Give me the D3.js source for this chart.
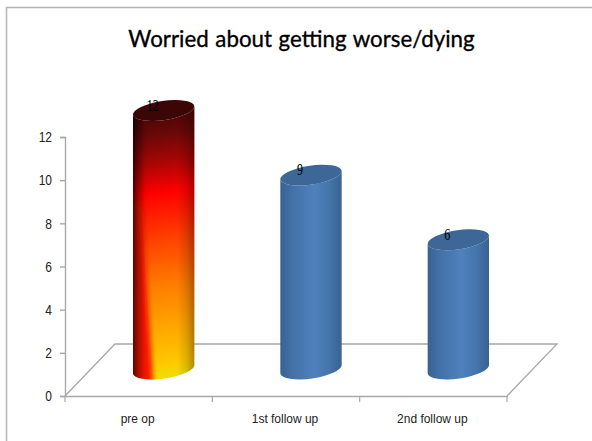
<!DOCTYPE html>
<html>
<head>
<meta charset="utf-8">
<script src="https://cdn.jsdelivr.net/npm/d3@7"></script>
<style>
html,body{margin:0;padding:0;background:#fff}
svg{display:block}
</style>
</head>
<body>
<svg id="chart" width="592" height="441"></svg>
<script>
const categories = ["pre op", "1st follow up", "2nd follow up"];
const values = [12, 9, 6];
const yTicks = [0, 2, 4, 6, 8, 10, 12];
const chartTitle = "Worried about getting worse/dying";

const svg = d3.select("#chart");
const W = 592, H = 441;

// Plot frame: front plane of the 3D floor, plus the depth shift to the back wall
const x0 = 65, x1 = 507, yBase = 396, yTop = 137;
const depthX = 50, depthY = 52;

const x = d3.scaleBand().domain(categories).range([x0, x1]);
const y = d3.scaleLinear().domain([0, 12]).range([yBase, yTop]);
// Cylinders stand in the middle of the floor, so they use a shifted value scale
const yBar = d3.scaleLinear().domain([0, 12]).range([369, 110.5]);

const rx = 31, ry = 9.5, tilt = -8.3;
const dx = rx * Math.cos(tilt * Math.PI / 180);
const dy = rx * Math.sin(tilt * Math.PI / 180);

const defs = svg.append("defs");

function grad(id, attrs, stops) {
  const g = defs.append("linearGradient").attr("id", id);
  Object.entries(attrs).forEach(([k, v]) => g.attr(k, v));
  stops.forEach(([o, c, a]) => g.append("stop")
    .attr("offset", o).attr("stop-color", c).attr("stop-opacity", a === undefined ? 1 : a));
}

const cx = d => x(d) + x.bandwidth() / 2 + depthX / 2;
const fireCx = cx(categories[0]);

grad("blueSide", {x1: 0, x2: 1, y1: 0, y2: 0}, [
  [0, "#38628f"], [0.2, "#4371a8"], [0.55, "#4f81bd"], [0.8, "#4474ab"], [1, "#39628f"]
]);
// Heat ramp runs almost straight down the column, leaning slightly to the right
grad("fireSide", {
  gradientUnits: "userSpaceOnUse",
  x1: fireCx - 12, y1: yBar(12) - 8, x2: fireCx + 26, y2: yBar(0) + 4
}, [
  [0, "#3a0404"], [0.12, "#6a0808"], [0.22, "#a80505"], [0.33, "#ff0000"],
  [0.5, "#ff4000"], [0.68, "#ff8000"], [0.84, "#ffaa00"], [0.95, "#ffc800"], [1, "#f0dc00"]
]);
grad("fireEdges", {x1: 0, x2: 1, y1: 0, y2: 0}, [
  [0, "#000", 0.66], [0.08, "#000", 0.36], [0.2, "#000", 0.04], [0.28, "#000", 0],
  [0.72, "#000", 0], [0.88, "#000", 0.13], [1, "#000", 0.32]
]);

// Soft edge for the red wedge on the column's left flank
defs.append("filter").attr("id", "soften")
  .attr("x", "-40%").attr("y", "-20%").attr("width", "180%").attr("height", "140%")
  .append("feGaussianBlur").attr("stdDeviation", 2.5);

const root = svg.append("g");

// Chart border: only its top and left edges are visible
root.append("path")
  .attr("d", d3.line()([[6.5, H], [6.5, 7.5], [W, 7.5]]))
  .attr("fill", "none").attr("stroke", "#b4b4b4").attr("stroke-width", 1.5);

// Floor outline
root.append("path")
  .attr("d", d3.line()([
    [x0, yBase], [x0 + depthX, yBase - depthY], [x1 + depthX, yBase - depthY], [x1, yBase]
  ]))
  .attr("fill", "none").attr("stroke", "#a8a8a8").attr("stroke-width", 1.3);

const axisFont = "'Liberation Sans',sans-serif";

// Value axis, labels drawn tall and condensed
const yAxis = root.append("g")
  .attr("transform", `translate(${x0},0)`)
  .call(d3.axisLeft(y).tickValues(yTicks).tickSize(5).tickPadding(0));
yAxis.selectAll("path,line").attr("stroke", "#a8a8a8").attr("stroke-width", 1.4);
yAxis.selectAll("text")
  .attr("x", 0)
  .attr("transform", "translate(-13,0) scale(0.8,1)")
  .attr("font-family", axisFont)
  .attr("font-size", 15).attr("fill", "#222");

// Category axis
const xAxis = root.append("g")
  .attr("transform", `translate(0,${yBase})`)
  .call(d3.axisBottom(x).tickSize(0).tickPadding(0));
xAxis.selectAll("path").attr("stroke", "#a8a8a8").attr("stroke-width", 1.5);
xAxis.selectAll("text")
  .attr("y", 0).attr("dy", 0)
  .attr("transform", "translate(-1,27) scale(0.92,1)")
  .attr("font-family", axisFont)
  .attr("font-size", 13).attr("fill", "#222");
const edgeTicks = d3.range(categories.length + 1).map(i => x0 + i * x.step());
root.selectAll(".edge-tick").data(edgeTicks).join("line")
  .attr("class", "edge-tick")
  .attr("x1", d => d).attr("x2", d => d)
  .attr("y1", yBase).attr("y2", yBase + 6)
  .attr("stroke", "#a8a8a8").attr("stroke-width", 1.2);

function sidePath(cat, v) {
  const c = cx(cat), t = yBar(v), b = yBar(0);
  return `M${c - dx},${t - dy}L${c - dx},${b - dy}` +
    `A${rx},${ry} ${tilt} 0 0 ${c + dx},${b + dy}` +
    `L${c + dx},${t + dy}` +
    `A${rx},${ry} ${tilt} 0 1 ${c - dx},${t - dy}Z`;
}

const rows = categories.map((c, i) => ({cat: c, v: values[i], i}));

defs.append("clipPath").attr("id", "fireClip")
  .append("path").attr("d", sidePath(rows[0].cat, rows[0].v));

const bars = root.selectAll(".bar").data(rows).join("g").attr("class", "bar");

bars.each(function (d) {
  const g = d3.select(this);
  const path = sidePath(d.cat, d.v);
  if (d.i === 0) {
    g.append("path").attr("d", path).attr("fill", "url(#fireSide)");
    g.append("g").attr("clip-path", "url(#fireClip)")
      .append("path")
      .attr("d", d3.line()([
        [fireCx - dx - 12, yBar(8.4)],
        [fireCx - 22, yBar(7.5)],
        [fireCx - 10, yBar(-1)],
        [fireCx - dx - 12, yBar(-1)]
      ]))
      .attr("fill", "#ff1200")
      .attr("filter", "url(#soften)");
    g.append("path").attr("d", path).attr("fill", "url(#fireEdges)");
  } else {
    g.append("path").attr("d", path).attr("fill", "url(#blueSide)");
  }
  g.append("ellipse")
    .attr("rx", rx).attr("ry", ry)
    .attr("transform", `translate(${cx(d.cat)},${yBar(d.v)}) rotate(${tilt})`)
    .attr("fill", d.i === 0 ? "#3c0606" : "#3c6796");
  g.append("text")
    .attr("transform", `translate(${cx(d.cat) - 11},${yBar(d.v)}) scale(0.75,1)`)
    .attr("text-anchor", "middle")
    .attr("font-family", "'Liberation Serif',serif")
    .attr("font-size", 16)
    .attr("fill", "#000")
    .text(d.v);
});

// Title
root.append("text")
  .attr("transform", "translate(301.5,47) scale(0.93,1)")
  .attr("text-anchor", "middle")
  .attr("font-family", "Lato,sans-serif")
  .attr("font-size", 24)
  .attr("fill", "#000")
  .attr("stroke", "#000")
  .attr("stroke-width", 0.35)
  .attr("word-spacing", 1)
  .text(chartTitle);
</script>
</body>
</html>
